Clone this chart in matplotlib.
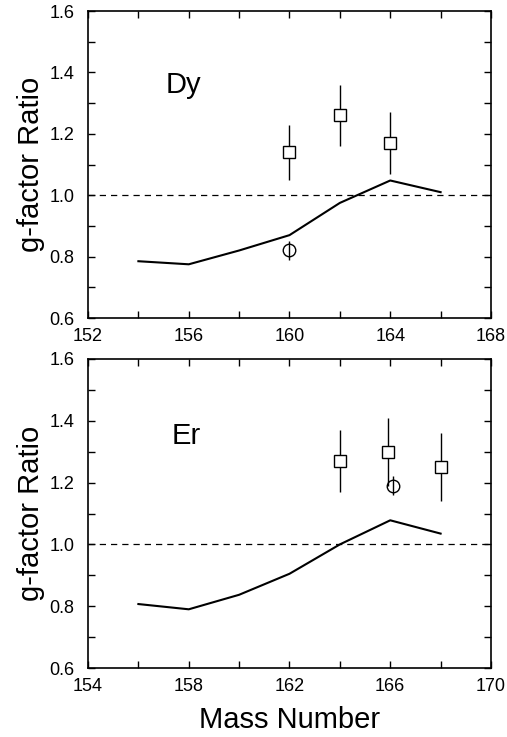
import numpy as np
import matplotlib.pyplot as plt
from matplotlib.ticker import MultipleLocator

plt.rcParams['font.family'] = ['Liberation Sans', 'DejaVu Sans']

# Dy isotopes: calculated ratio curve
dy_calc_A = [154, 156, 158, 160, 162, 164, 166]
dy_calc_g = [0.785, 0.775, 0.82, 0.87, 0.975, 1.048, 1.01]
# Dy measurements (squares) and the single circle point
dy_sq_A = [160, 162, 164]
dy_sq_g = [1.14, 1.26, 1.17]
dy_sq_err = [0.09, 0.10, 0.10]
dy_ci_A = [160]
dy_ci_g = [0.82]
dy_ci_err = [0.03]

# Er isotopes
er_calc_A = [156, 158, 160, 162, 164, 166, 168]
er_calc_g = [0.807, 0.79, 0.837, 0.905, 1.0, 1.078, 1.035]
er_sq_A = [164, 165.9, 168]
er_sq_g = [1.27, 1.30, 1.25]
er_sq_err = [0.10, 0.11, 0.11]
er_ci_A = [166.1]
er_ci_g = [1.19]
er_ci_err = [0.03]

fig = plt.figure(figsize=(5.07, 7.37), dpi=100)
ax1 = fig.add_axes([0.1736, 0.5685, 0.7948, 0.4165])
ax2 = fig.add_axes([0.1736, 0.0936, 0.7948, 0.4193])


def draw_panel(ax, calc_A, calc_g, sq_A, sq_g, sq_err, ci_A, ci_g, ci_err,
               xlim, name, name_xy):
    ax.axhline(1.0, color='black', lw=0.9, ls=(0, (5, 4)))
    ax.plot(calc_A, calc_g, color='black', lw=1.5)
    ax.errorbar(sq_A, sq_g, yerr=sq_err, fmt='s', ms=8, mfc='white',
                mec='black', mew=1.0, ecolor='black', elinewidth=1.0,
                capsize=0)
    ax.errorbar(ci_A, ci_g, yerr=ci_err, fmt='o', ms=9, mfc='none',
                mec='black', mew=1.0, ecolor='black', elinewidth=1.0,
                capsize=0)
    ax.text(name_xy[0], name_xy[1], name, fontsize=21, va='center', ha='left')
    ax.set_xlim(*xlim)
    ax.set_ylim(0.6, 1.6)
    ax.set_xticks(np.arange(xlim[0], xlim[1] + 1, 4))
    ax.xaxis.set_minor_locator(MultipleLocator(2))
    ax.yaxis.set_major_locator(MultipleLocator(0.2))
    ax.yaxis.set_minor_locator(MultipleLocator(0.1))
    ax.yaxis.set_major_formatter(plt.FuncFormatter(lambda v, p: f'{v:.1f}'))
    ax.tick_params(which='both', direction='in', top=True, right=True,
                   length=5, width=1.0, labelsize=13)
    ax.tick_params(axis='x', pad=7)
    ax.tick_params(axis='y', pad=10)
    for s in ax.spines.values():
        s.set_linewidth(1.2)
    ax.set_ylabel('g-factor Ratio', fontsize=21, labelpad=3)


draw_panel(ax1, dy_calc_A, dy_calc_g, dy_sq_A, dy_sq_g, dy_sq_err,
           dy_ci_A, dy_ci_g, dy_ci_err, (152, 168), 'Dy', (155.1, 1.36))
draw_panel(ax2, er_calc_A, er_calc_g, er_sq_A, er_sq_g, er_sq_err,
           er_ci_A, er_ci_g, er_ci_err, (154, 170), 'Er', (157.3, 1.35))
ax2.set_xlabel('Mass Number', fontsize=21, labelpad=8)

fig.savefig('out.png', dpi=100)
